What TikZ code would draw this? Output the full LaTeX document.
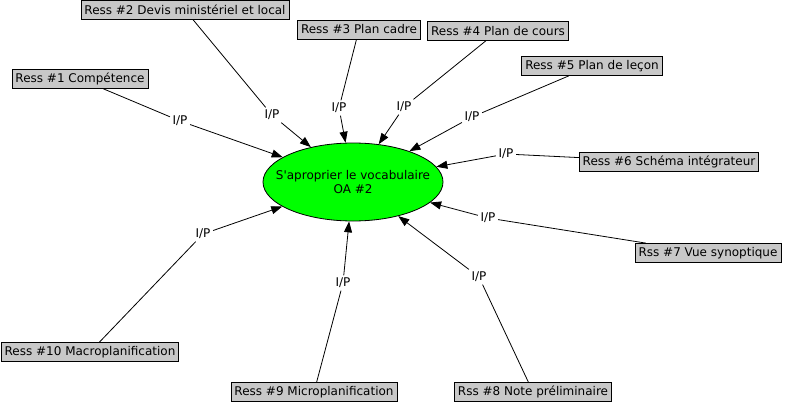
\documentclass[tikz,border=0pt]{standalone}
\usepackage{fontspec}
\setmainfont{DejaVu Sans}
\usetikzlibrary{positioning,arrows.meta,shapes.geometric}
\definecolor{ink}{HTML}{000000}
\definecolor{resGray}{HTML}{C8C8C8}
\definecolor{goalGreen}{HTML}{00FF00}
\tikzset{
  lien/.style={draw=ink, line width=0.8pt},
  lbl/.style={font=\fontsize{12}{14}\selectfont, text=ink, inner sep=2.5pt},
}

\begin{document}
\begin{tikzpicture}[x=1pt, y=-1pt,
  res/.style={draw=ink, fill=resGray, line width=0.8pt, inner xsep=3.5pt, inner ysep=0pt, minimum height=19pt, font=\fontsize{12}{14}\selectfont, text=ink},
  goal/.style={ellipse, draw=ink, fill=goalGreen, line width=0.8pt, minimum width=180pt, minimum height=78pt, inner xsep=-30pt, inner ysep=-8pt, align=center, font=\fontsize{12}{14}\selectfont, text=ink},
  fleche/.style={lien, -{Triangle[length=11pt, width=8pt]}}]
\useasboundingbox (0,0) rectangle (786,404);
\node[goal] (oa) at (353,182) {S\textquotesingle aproprier le vocabulaire\\OA \#2};
\node[res] (r1) at (80,79) {Ress \#1 Compétence};
\node[res] (r2) at (185,10) {Ress \#2 Devis ministériel et local};
\node[res] (r3) at (359,29.5) {Ress \#3 Plan cadre};
\node[res] (r4) at (498,31) {Ress \#4 Plan de cours};
\node[res] (r5) at (592,66) {Ress \#5 Plan de leçon};
\node[res] (r6) at (669,162) {Ress \#6 Schéma intégrateur};
\node[res] (r7) at (708,253) {Rss \#7 Vue synoptique};
\node[res] (r8) at (533,392) {Rss \#8 Note préliminaire};
\node[res] (r9) at (314,392) {Ress \#9 Microplanification};
\node[res] (r10) at (90,352) {Ress \#10 Macroplanification};
\node[lbl] (p1) at (180,121) {I/P};
\node[lbl] (p2) at (272,115) {I/P};
\node[lbl] (p3) at (339,108) {I/P};
\node[lbl] (p4) at (404,107) {I/P};
\node[lbl] (p5) at (472,117) {I/P};
\node[lbl] (p6) at (506,154) {I/P};
\node[lbl] (p7) at (488,218) {I/P};
\node[lbl] (p8) at (479,277) {I/P};
\node[lbl] (p9) at (343,283) {I/P};
\node[lbl] (p10) at (203,234) {I/P};
\draw[lien] (r1) -- (p1);
\draw[fleche] (p1) -- (oa);
\draw[lien] (r2) -- (p2);
\draw[fleche] (p2) -- (oa);
\draw[lien] (r3) -- (p3);
\draw[fleche] (p3) -- (oa);
\draw[lien] (r4) -- (p4);
\draw[fleche] (p4) -- (oa);
\draw[lien] (r5) -- (p5);
\draw[fleche] (p5) -- (oa);
\draw[lien] (r6) -- (p6);
\draw[fleche] (p6) -- (oa);
\draw[lien] (r7) -- (p7);
\draw[fleche] (p7) -- (oa);
\draw[lien] (r8) -- (p8);
\draw[fleche] (p8) -- (oa);
\draw[lien] (r9) -- (p9);
\draw[fleche] (p9) -- (oa);
\draw[lien] (r10) -- (p10);
\draw[fleche] (p10) -- (oa);
\end{tikzpicture}
\end{document}
